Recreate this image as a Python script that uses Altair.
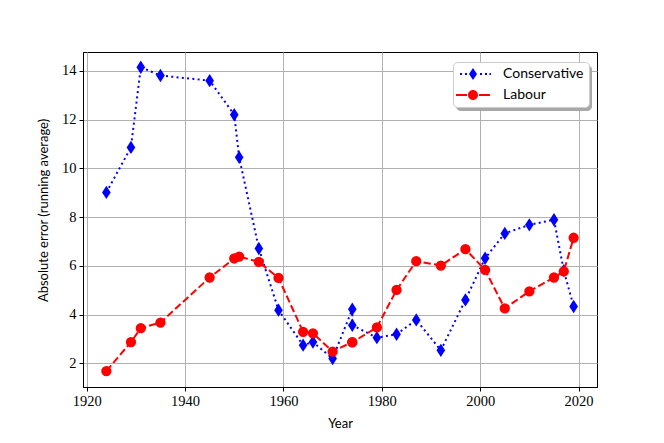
import altair as alt
import pandas as pd

# ---- data ----
years = [1924, 1929, 1931, 1935, 1945, 1950, 1951, 1955, 1959, 1964, 1966, 1970,
         1974, 1974, 1979, 1983, 1987, 1992, 1997, 2001, 2005, 2010, 2015, 2017, 2019]
conservative = [9.01, 10.86, 14.15, 13.81, 13.60, 12.20, 10.45, 6.71, 4.18, 2.74, 2.87, 2.19,
                4.22, 3.56, 3.05, 3.19, 3.78, 2.53, 4.60, 6.31, 7.33, 7.68, 7.89, 5.80, 4.33]
labour = [1.68, 2.87, 3.44, 3.67, 5.52, 6.30, 6.38, 6.16, 5.50, 3.29, 3.23, 2.48,
          2.87, 2.86, 3.47, 5.01, 6.19, 6.01, 6.68, 5.83, 4.25, 4.95, 5.52, 5.77, 7.15]
parties = ["Conservative", "Labour"]
shadow_keys = ["Conservative ", "Labour "]
x_ticks = [1920, 1940, 1960, 1980, 2000, 2020]
y_ticks = [2, 4, 6, 8, 10, 12, 14]

rows = []
for name, vals in zip(parties, [conservative, labour]):
    for i, (yr, v) in enumerate(zip(years, vals)):
        rows.append({"year": yr, "value": v, "party": name, "shadow": name + " ", "idx": i})
df = pd.DataFrame(rows)

BLUE = "#0000ff"
RED = "#ff0000"
DIAMOND = "M0,-1L0.65,0L0,1L-0.65,0Z"

# ---- legend symbol paths (line sample + marker, all filled), units of 7px ----
U = 7.0
def f(v):
    return f"{v / U:.3f}"
def bar(a, b, t=1.0):
    return f"M{f(a)},{f(-t)}L{f(b)},{f(-t)}L{f(b)},{f(t)}L{f(a)},{f(t)}Z"
cons_sym = "".join(bar(a, b) for a, b in [(-5, -3), (0, 2), (15, 17), (20, 22), (24.5, 26)])
cons_sym += f"M{f(8)},{f(-6)}L{f(12)},0L{f(8)},{f(6)}L{f(4)},0Z"
r = 5.0
lab_sym = bar(-9, 2) + bar(14, 25)
lab_sym += f"M{f(8 - r)},0A{f(r)},{f(r)} 0 1,0 {f(8 + r)},0A{f(r)},{f(r)} 0 1,0 {f(8 - r)},0Z"

legend_props = dict(
    title=None, orient="none", legendX=370, legendY=10,
    padding=5, rowPadding=7, symbolSize=196, labelOffset=31,
    labelFont="Lato", labelFontSize=14, labelColor="black",
    fillColor="white", strokeColor="#cccccc", cornerRadius=4,
    symbolStrokeWidth=0, symbolOpacity=1, zindex=2,
)
# drop-shadow box behind the legend (no texts of its own)
shadow_props = dict(legend_props)
shadow_props.update(
    legendX=373, legendY=13, fillColor="#a8a8a8", strokeColor="#a8a8a8",
    labelExpr="''", labelOffset=111, symbolOpacity=0, zindex=1,
)

SERIF = "Times New Roman, Liberation Serif, serif"
x = alt.X("year:Q",
          scale=alt.Scale(domain=[1919.25, 2023.75], nice=False, zero=False),
          axis=alt.Axis(values=x_ticks, format="d", title="Year", titlePadding=10,
                        labelPadding=3, labelFont=SERIF, labelFontSize=14.5))
y = alt.Y("value:Q",
          scale=alt.Scale(domain=[1.025, 14.775], nice=False, zero=False),
          axis=alt.Axis(values=y_ticks, format="d", title="Absolute error (running average)",
                        titlePadding=11, labelPadding=3, titleY=158,
                        labelFont=SERIF, labelFontSize=14.5))

base = alt.Chart(df)

def line_layer(name, colour, dash):
    return base.transform_filter(alt.datum.party == name).mark_line(
        color=colour, strokeWidth=2, strokeDash=dash, strokeCap="butt"
    ).encode(x=x, y=y, order=alt.Order("idx:Q"))

def point_layer(name, colour, shape, size):
    return base.transform_filter(alt.datum.party == name).mark_point(
        color=colour, filled=True, opacity=1, strokeWidth=0, shape=shape, size=size
    ).encode(x=x, y=y)

legend_layer = base.transform_filter("false").mark_point(
    filled=True, opacity=1, strokeWidth=0
).encode(
    color=alt.Color("party:N", scale=alt.Scale(domain=parties, range=[BLUE, RED]),
                    legend=alt.Legend(**legend_props)),
    shape=alt.Shape("party:N", scale=alt.Scale(domain=parties, range=[cons_sym, lab_sym]),
                    legend=alt.Legend(**legend_props)),
    strokeDash=alt.StrokeDash("shadow:N", scale=alt.Scale(domain=shadow_keys, range=[[1, 1], [2, 2]]),
                              legend=alt.Legend(**shadow_props)),
)

chart = alt.layer(
    line_layer("Conservative", BLUE, [2, 3.3]),
    point_layer("Conservative", BLUE, DIAMOND, 177),
    line_layer("Labour", RED, [7.4, 3.2]),
    point_layer("Labour", RED, "circle", 106),
    legend_layer,
).properties(
    width=514, height=335,
    padding={"left": 75, "top": 44, "right": 40, "bottom": 55},
    autosize=alt.AutoSizeParams(type="none"),
).configure_view(
    stroke="black", strokeWidth=1
).configure_axis(
    grid=True, gridColor="#b0b0b0", gridWidth=1,
    domainColor="black", domainWidth=1,
    tickColor="black", tickSize=4, tickWidth=1,
    labelFont=SERIF, labelFontSize=14.5, labelColor="black",
    labelFlush=False, labelOverlap=False,
    titleFont="Lato", titleFontSize=13, titleFontWeight="normal", titleColor="black",
)

chart.save("out.html", embed_options={"renderer": "svg", "actions": False})
